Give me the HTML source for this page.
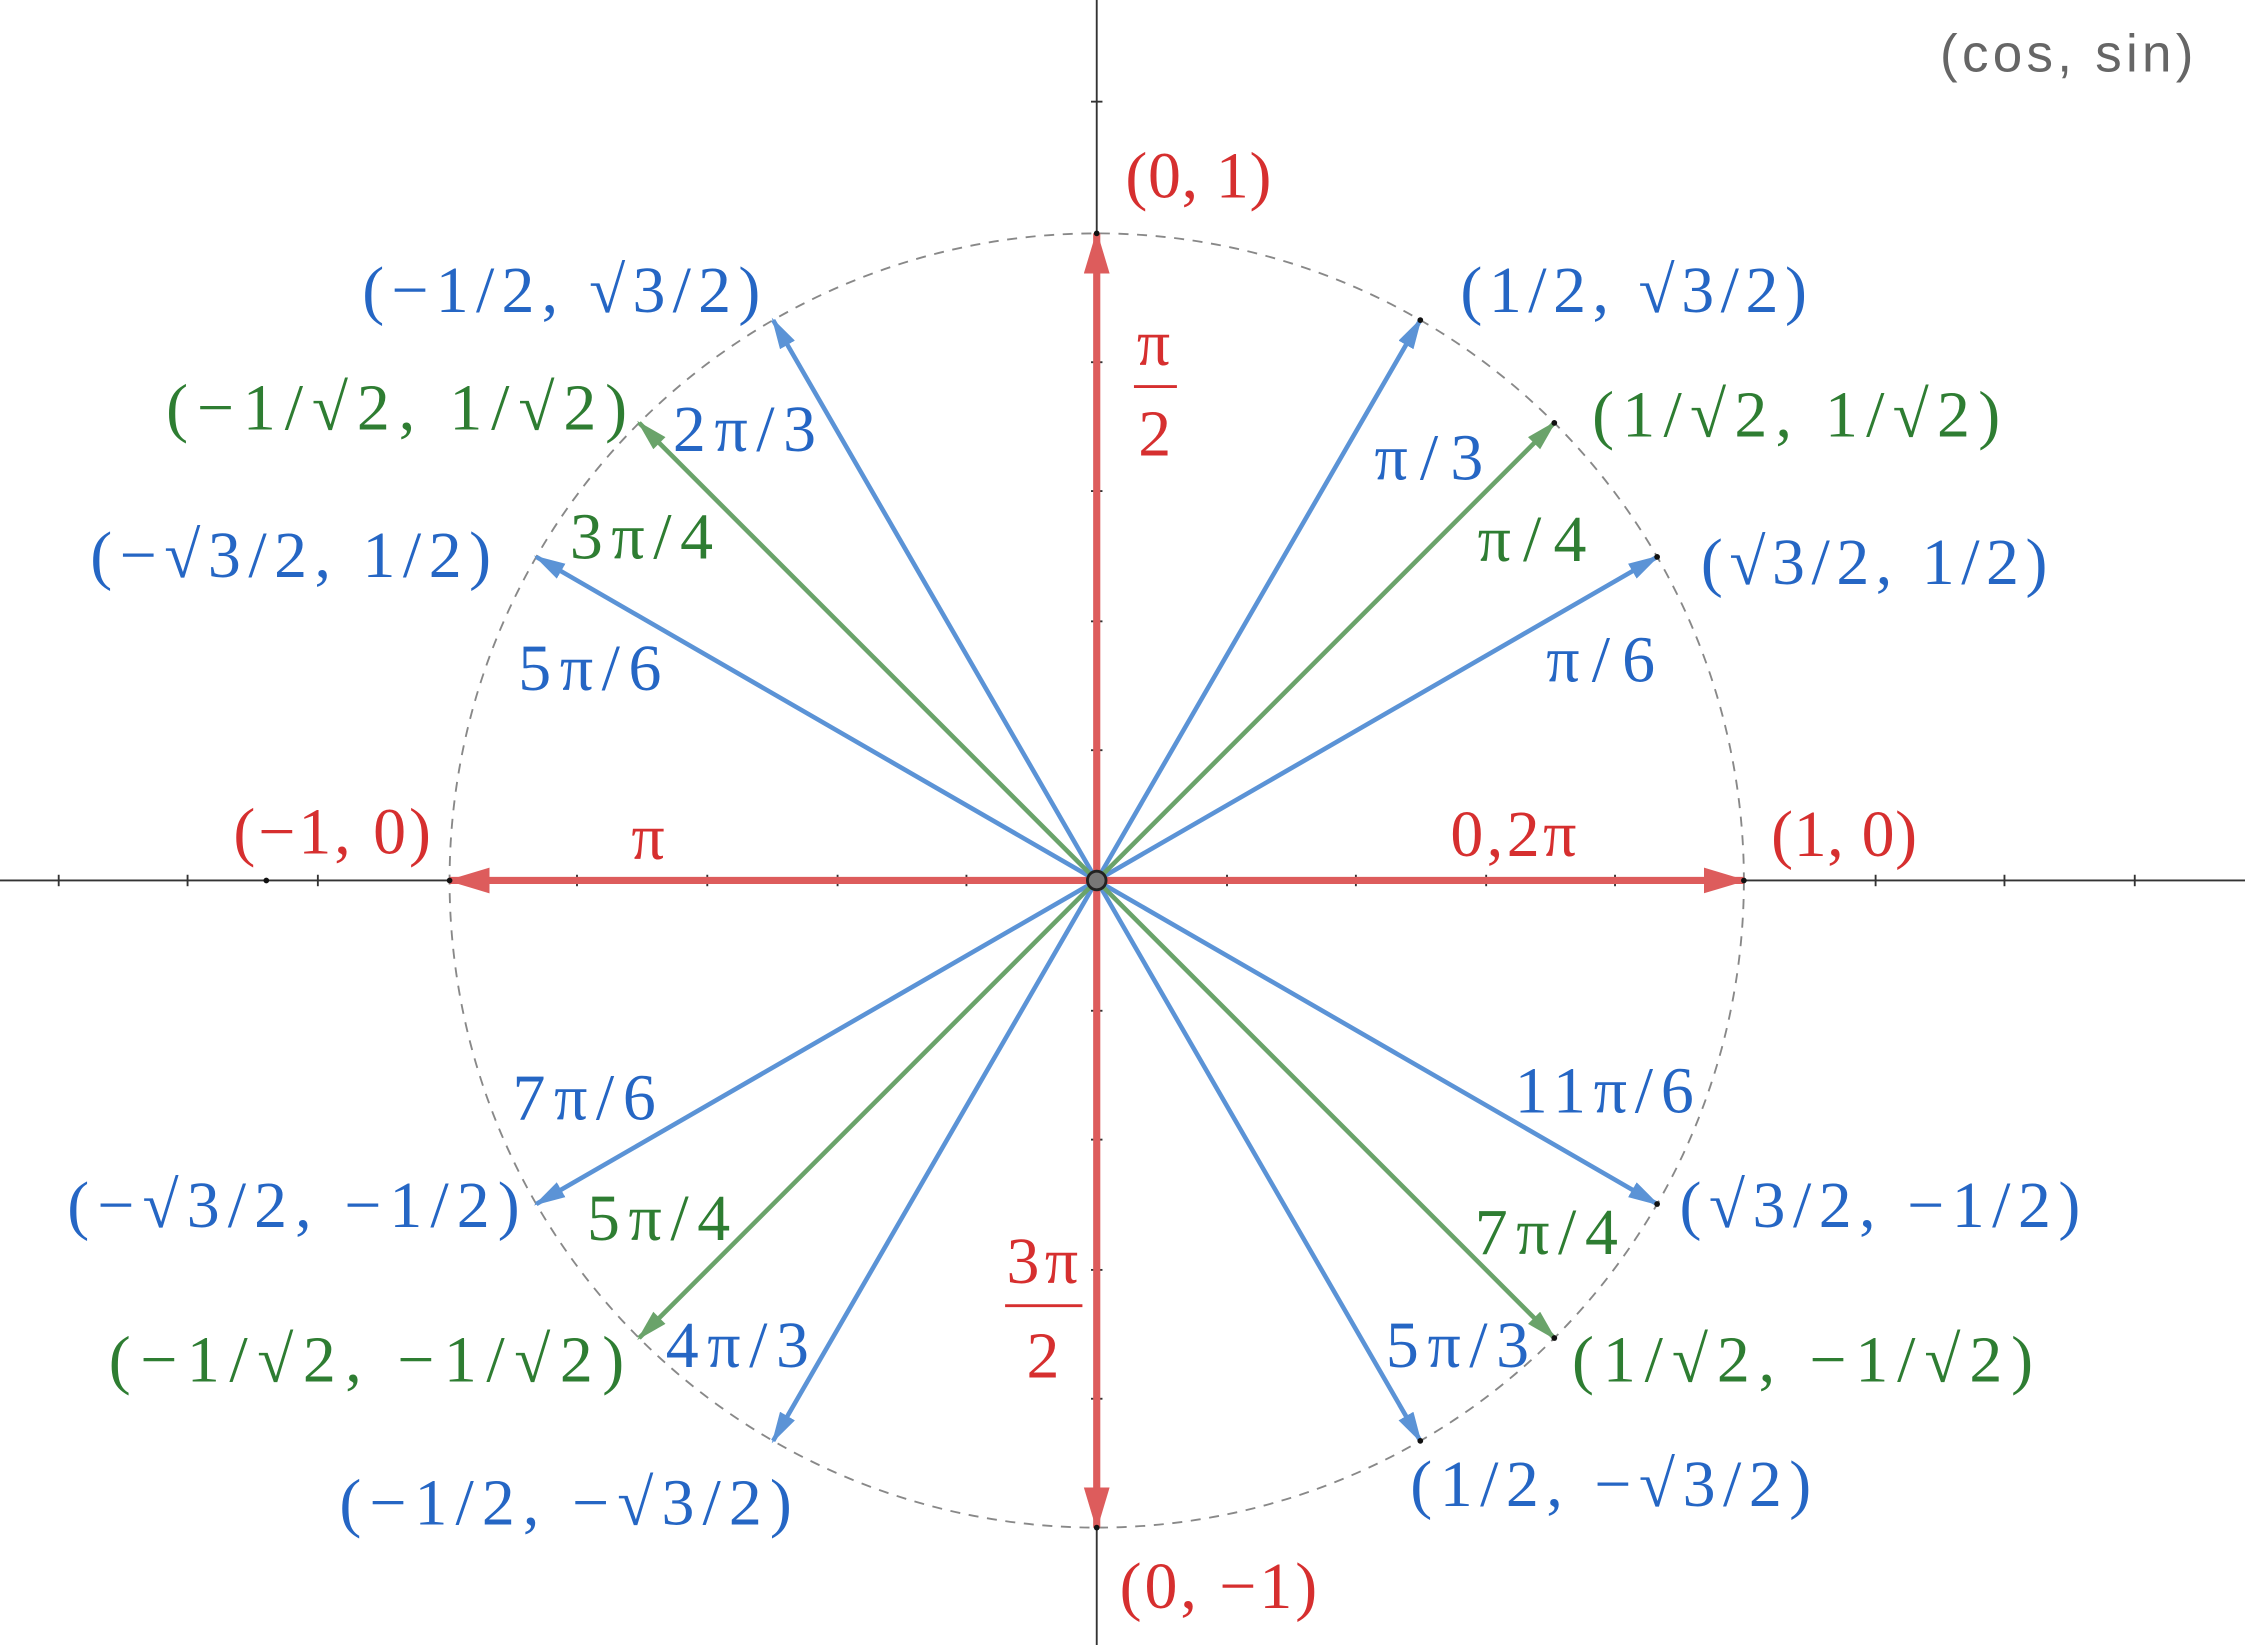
<!DOCTYPE html>
<html><head><meta charset="utf-8"><style>
html,body{margin:0;padding:0;background:#fff;}
svg{display:block;}
text{font-family:"Liberation Serif",serif;font-size:46px;}
.r{fill:#d62f2f}.b{fill:#2566c4}.g{fill:#2e7d32}
</style></head><body>
<svg width="2245" height="1645" viewBox="0 0 1568 1149" preserveAspectRatio="none" xmlns="http://www.w3.org/2000/svg">
<defs>
<marker id="ar" markerUnits="userSpaceOnUse" markerWidth="32" markerHeight="20" refX="28" refY="9" orient="auto"><path d="M0,0 L30,9 L0,18 Z" fill="#dd5c5c"/></marker>
<marker id="ab" markerUnits="userSpaceOnUse" markerWidth="24" markerHeight="16" refX="20" refY="6" orient="auto"><path d="M0,0 L22,6 L0,12 Z" fill="#5b93d6"/></marker>
<marker id="ag" markerUnits="userSpaceOnUse" markerWidth="24" markerHeight="16" refX="20" refY="6" orient="auto"><path d="M0,0 L22,6 L0,12 Z" fill="#6aa36a"/></marker>
</defs>
<line x1="0" y1="615" x2="1568" y2="615" stroke="#333" stroke-width="1.3"/>
<line x1="766" y1="0" x2="766" y2="1149" stroke="#333" stroke-width="1.3"/>
<g stroke="#333" stroke-width="1.3">
<line x1="41" y1="611" x2="41" y2="619"/><line x1="131" y1="611" x2="131" y2="619"/><line x1="222" y1="611" x2="222" y2="619"/><line x1="403" y1="611" x2="403" y2="619"/><line x1="494" y1="611" x2="494" y2="619"/><line x1="585" y1="611" x2="585" y2="619"/><line x1="675" y1="611" x2="675" y2="619"/><line x1="857" y1="611" x2="857" y2="619"/><line x1="947" y1="611" x2="947" y2="619"/><line x1="1038" y1="611" x2="1038" y2="619"/><line x1="1128" y1="611" x2="1128" y2="619"/><line x1="1310" y1="611" x2="1310" y2="619"/><line x1="1400" y1="611" x2="1400" y2="619"/><line x1="1491" y1="611" x2="1491" y2="619"/>
<line x1="762" y1="71" x2="770" y2="71"/><line x1="762" y1="253" x2="770" y2="253"/><line x1="762" y1="343" x2="770" y2="343"/><line x1="762" y1="434" x2="770" y2="434"/><line x1="762" y1="524" x2="770" y2="524"/><line x1="762" y1="706" x2="770" y2="706"/><line x1="762" y1="796" x2="770" y2="796"/><line x1="762" y1="887" x2="770" y2="887"/><line x1="762" y1="977" x2="770" y2="977"/>
</g>
<circle cx="766" cy="615" r="452" fill="none" stroke="#888" stroke-width="1.3" stroke-dasharray="7,6"/>
<g stroke="#5b93d6" stroke-width="3.2" marker-end="url(#ab)">
<line x1="766" y1="615" x2="1157.4" y2="389"/><line x1="766" y1="615" x2="992" y2="223.6"/>
<line x1="766" y1="615" x2="540" y2="223.6"/><line x1="766" y1="615" x2="374.6" y2="389"/>
<line x1="766" y1="615" x2="374.6" y2="841"/><line x1="766" y1="615" x2="540" y2="1006.4"/>
<line x1="766" y1="615" x2="992" y2="1006.4"/><line x1="766" y1="615" x2="1157.4" y2="841"/>
</g>
<g stroke="#6aa36a" stroke-width="3.2" marker-end="url(#ag)">
<line x1="766" y1="615" x2="1085.6" y2="295.4"/><line x1="766" y1="615" x2="446.4" y2="295.4"/>
<line x1="766" y1="615" x2="446.4" y2="934.6"/><line x1="766" y1="615" x2="1085.6" y2="934.6"/>
</g>
<g stroke="#dd5c5c" stroke-width="5" marker-end="url(#ar)">
<line x1="766" y1="615" x2="1218" y2="615"/><line x1="766" y1="615" x2="766" y2="163"/>
<line x1="766" y1="615" x2="314" y2="615"/><line x1="766" y1="615" x2="766" y2="1067"/>
</g>
<g fill="#111">
<circle cx="1157.4" cy="389" r="2"/><circle cx="1085.6" cy="295.4" r="2"/><circle cx="992" cy="223.6" r="2"/><circle cx="766" cy="163" r="2"/><circle cx="186" cy="615" r="2"/><circle cx="766" cy="1067" r="2"/><circle cx="1157.4" cy="841" r="2"/><circle cx="1085.6" cy="934.6" r="2"/><circle cx="992" cy="1006.4" r="2"/><circle cx="1218" cy="615" r="2"/><circle cx="314" cy="615" r="2"/>
</g>
<circle cx="766" cy="615" r="6.5" fill="#777" stroke="#222" stroke-width="2"/>
<text x="1355" y="50" style="font-family:'Liberation Sans',sans-serif;font-size:37px" fill="#666" textLength="177">(cos, sin)</text>
<text class="r" x="786" y="138" textLength="102">(0, 1)</text>
<text class="r" x="1237" y="598" textLength="102">(1, 0)</text>
<text class="r" x="163" y="596" textLength="138">(−1, 0)</text>
<text class="r" x="782" y="1123" textLength="138">(0, −1)</text>
<text class="r" x="441" y="600">π</text>
<text class="r" x="1013" y="598" textLength="88">0,2π</text>
<text class="r" x="794" y="255">π</text>
<line x1="792" y1="270" x2="822" y2="270" stroke="#d62f2f" stroke-width="2"/>
<text class="r" x="795" y="318">2</text>
<text class="r" x="703" y="896" textLength="50">3π</text>
<line x1="702" y1="912" x2="756" y2="912" stroke="#d62f2f" stroke-width="2"/>
<text class="r" x="717" y="962">2</text>

<text class="b" x="1020" y="218" textLength="242">(1/2, √3/2)</text>
<text class="b" x="1188" y="408" textLength="242">(√3/2, 1/2)</text>
<text class="b" x="960" y="335" textLength="76">π/3</text>
<text class="b" x="1080" y="476" textLength="76">π/6</text>
<text class="b" x="253" y="218" textLength="278">(−1/2, √3/2)</text>
<text class="b" x="470" y="315" textLength="100">2π/3</text>
<text class="b" x="63" y="403" textLength="280">(−√3/2, 1/2)</text>
<text class="b" x="362" y="482" textLength="100">5π/6</text>
<text class="b" x="358" y="782" textLength="100">7π/6</text>
<text class="b" x="47" y="857" textLength="316">(−√3/2, −1/2)</text>
<text class="b" x="465" y="955" textLength="100">4π/3</text>
<text class="b" x="237" y="1065" textLength="316">(−1/2, −√3/2)</text>
<text class="b" x="1058" y="777" textLength="125">11π/6</text>
<text class="b" x="1173" y="857" textLength="280">(√3/2, −1/2)</text>
<text class="b" x="968" y="955" textLength="100">5π/3</text>
<text class="b" x="985" y="1052" textLength="280">(1/2, −√3/2)</text>

<text class="g" x="1112" y="305" textLength="285">(1/√2, 1/√2)</text>
<text class="g" x="1032" y="392" textLength="76">π/4</text>
<text class="g" x="116" y="300" textLength="322">(−1/√2, 1/√2)</text>
<text class="g" x="398" y="390" textLength="100">3π/4</text>
<text class="g" x="410" y="866" textLength="100">5π/4</text>
<text class="g" x="76" y="965" textLength="360">(−1/√2, −1/√2)</text>
<text class="g" x="1030" y="876" textLength="100">7π/4</text>
<text class="g" x="1098" y="965" textLength="322">(1/√2, −1/√2)</text>
</svg>
</body></html>
